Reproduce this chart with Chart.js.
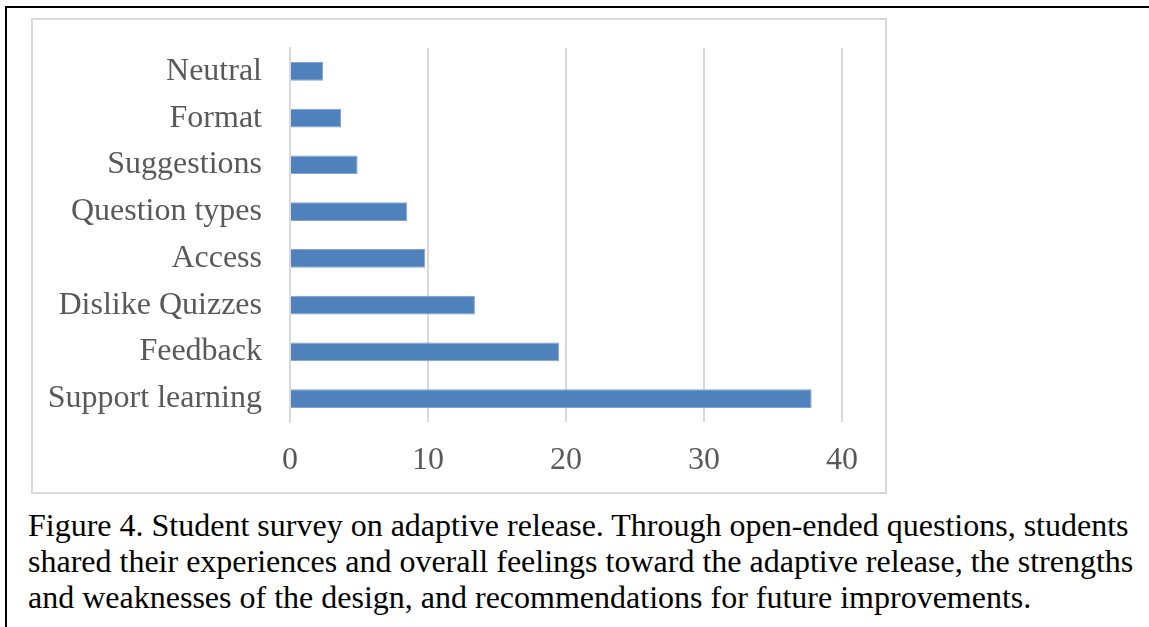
<!DOCTYPE html>
<html>
<head>
<meta charset="utf-8">
<script src="https://cdn.jsdelivr.net/npm/chart.js@4"></script>
<style>
  html, body { margin: 0; padding: 0; background: #fff; overflow: hidden; width: 1149px; height: 627px; }
  #frame { position: absolute; left: 5px; top: 6px; width: 1200px; height: 700px; border: 2px solid #000; box-sizing: border-box; }
  #box { position: absolute; left: 31px; top: 18px; width: 856px; height: 476px; border: 2px solid #d9d9d9; box-sizing: border-box; }
  #wrap { position: absolute; left: 33px; top: 20px; width: 852px; height: 472px; }
  #caption { position: absolute; left: 28px; top: 507px; font-family: "Liberation Serif", "Times New Roman", serif;
    font-size: 32px; line-height: 36px; color: #000; white-space: nowrap; }
</style>
</head>
<body>
<div id="frame"></div>
<div id="box"></div>
<div id="wrap"><canvas id="chart"></canvas></div>
<div id="caption">Figure 4. Student survey on adaptive release. Through open-ended questions, students<br>shared their experiences and overall feelings toward the adaptive release, the strengths<br>and weaknesses of the design, and recommendations for future improvements.</div>
<script>
const categories = ["Neutral", "Format", "Suggestions", "Question types", "Access", "Dislike Quizzes", "Feedback", "Support learning"];
const values = [2.4, 3.7, 4.9, 8.5, 9.8, 13.4, 19.5, 37.8];
const xTicks = [0, 10, 20, 30, 40];

const ctx = document.getElementById("chart").getContext("2d");
new Chart(ctx, {
  type: "bar",
  data: {
    labels: categories,
    datasets: [
      {
        data: values,
        backgroundColor: "#4f81bd",
        borderColor: "#7ea3d3",
        borderWidth: 1,
        barPercentage: 0.4,
        categoryPercentage: 1,
      },
    ],
  },
  options: {
    indexAxis: "y",
    responsive: true,
    maintainAspectRatio: false,
    animation: false,
    layout: { padding: { left: 0, right: 43, top: 28, bottom: 0 } },
    plugins: { legend: { display: false }, tooltip: { enabled: false } },
    scales: {
      x: {
        min: 0,
        max: 40,
        afterBuildTicks: (scale) => { scale.ticks = xTicks.map((v) => ({ value: v })); },
        afterFit: (scale) => { scale.height = 70; scale.paddingLeft = 0; scale.paddingRight = 0; },
        grid: { color: "#d9d9d9", lineWidth: 2, drawTicks: false },
        border: { display: false },
        ticks: {
          padding: 19,
          color: "#595959",
          font: { family: "Liberation Serif", size: 32 },
          maxRotation: 0,
        },
      },
      y: {
        afterFit: (scale) => { scale.width = 257; scale.paddingTop = 0; scale.paddingBottom = 0; },
        grid: { display: false, drawTicks: false },
        border: { display: true, color: "#d9d9d9", width: 2 },
        ticks: {
          padding: 28,
          color: "#595959",
          font: { family: "Liberation Serif", size: 32 },
        },
      },
    },
  },
});
</script>
</body>
</html>
